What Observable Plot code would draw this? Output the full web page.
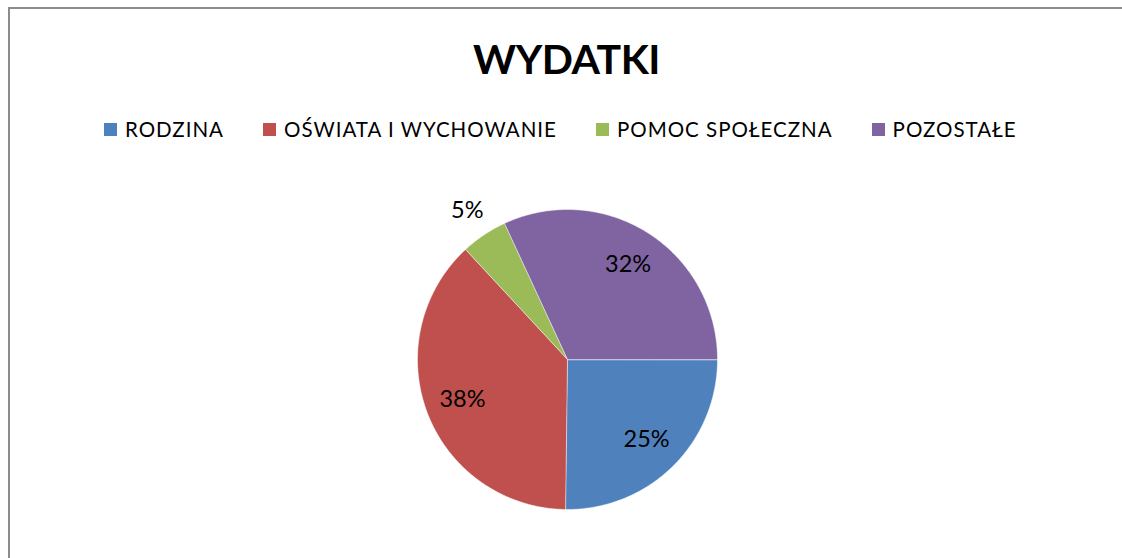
<!DOCTYPE html>
<html><head><meta charset="utf-8">
<script src="https://cdn.jsdelivr.net/npm/d3@7"></script>
<script src="https://cdn.jsdelivr.net/npm/@observablehq/plot@0.6"></script>
<style>
html,body{margin:0;padding:0;background:#fff;}
#chart{position:relative;width:1122px;height:558px;overflow:hidden;font-family:Lato,"Open Sans",sans-serif;color:#000;}
#frame{position:absolute;left:8px;top:7px;width:1300px;height:800px;border-left:2px solid #8c8c8c;border-top:2px solid #8c8c8c;}
#title{position:absolute;left:0;width:1133px;top:33px;line-height:52px;text-align:center;font-weight:bold;font-size:41px;letter-spacing:-0.5px;}
#legend{position:absolute;left:104px;top:117px;height:24px;display:flex;align-items:center;font-size:20.5px;letter-spacing:1px;white-space:nowrap;}
.item{display:flex;align-items:center;margin-right:39px;}
.sw{width:13px;height:13px;margin-right:8px;}
#plot{position:absolute;left:0;top:0;}
</style>
</head><body>
<div id="chart">
  <div id="frame"></div>
  <div id="plot"></div>
  <div id="title"></div>
  <div id="legend"></div>
</div>
<script>
const title = "WYDATKI";
const categories = ["RODZINA", "OŚWIATA I WYCHOWANIE", "POMOC SPOŁECZNA", "POZOSTAŁE"];
const values = [25.2, 37.9, 5.0, 31.9];
const colors = ["#4F81BD", "#C0504D", "#9BBB59", "#8064A2"];

document.getElementById("title").textContent = title;
const legend = document.getElementById("legend");
categories.forEach((c, i) => {
  const it = document.createElement("div");
  it.className = "item";
  const sw = document.createElement("div");
  sw.className = "sw";
  sw.style.background = colors[i];
  const tx = document.createElement("span");
  tx.textContent = c;
  it.appendChild(sw); it.appendChild(tx);
  legend.appendChild(it);
});

const total = d3.sum(values);
const arcs = d3.pie().sort(null).startAngle(Math.PI / 2).endAngle(Math.PI / 2 + 2 * Math.PI)(values);
const slices = arcs.map((a, i) => {
  const n = Math.max(2, Math.ceil((a.endAngle - a.startAngle) / 0.01));
  const pts = [[0, 0]];
  for (let k = 0; k <= n; k++) {
    const t = a.startAngle + (a.endAngle - a.startAngle) * k / n;
    pts.push([Math.sin(t), -Math.cos(t)]);
  }
  pts.push([0, 0]);
  const share = a.value / total;
  const mid = (a.startAngle + a.endAngle) / 2;
  const r = share < 0.1 ? 1.2 : 0.75;
  return {
    type: "Feature",
    properties: {name: categories[i], color: colors[i], label: Math.round(share * 100) + "%", lx: r * Math.sin(mid), ly: -r * Math.cos(mid)},
    geometry: {type: "Polygon", coordinates: [pts]}
  };
});

const plot = Plot.plot({
  width: 1122,
  height: 558,
  marginLeft: 417,
  marginRight: 405,
  marginTop: 209,
  marginBottom: 49,
  projection: {type: "identity", domain: {type: "MultiPoint", coordinates: [[-1, -1], [1, 1]]}},
  marks: [
    Plot.geo(slices, {fill: d => d.properties.color, stroke: "white", strokeOpacity: 0.5, strokeWidth: 1}),
    Plot.text(slices, {x: d => d.properties.lx, y: d => d.properties.ly, text: d => d.properties.label, fontSize: 23.5, fontFamily: "Lato, 'Open Sans', sans-serif", fill: "#000"})
  ]
});
plot.style.background = "transparent";
document.getElementById("plot").appendChild(plot);
</script>
</body></html>
